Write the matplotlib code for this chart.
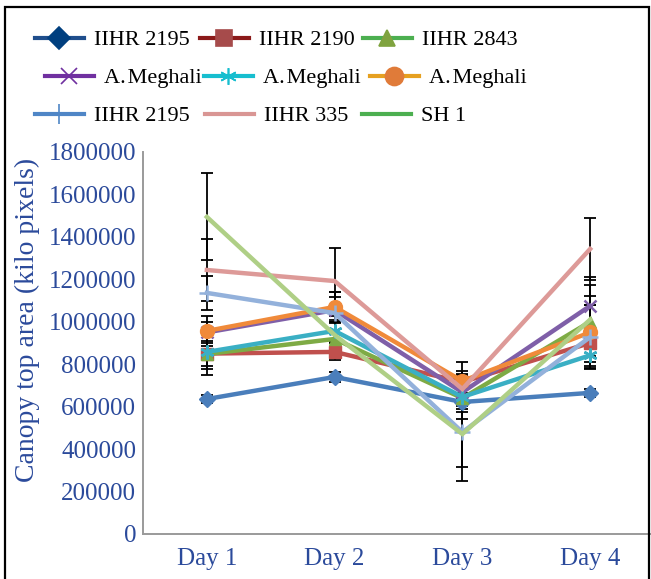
import matplotlib
matplotlib.use("Agg")
import matplotlib.pyplot as plt
from matplotlib.lines import Line2D
from matplotlib.patches import Rectangle

# ---- data -------------------------------------------------------------
days = ["Day 1", "Day 2", "Day 3", "Day 4"]
y_ticks = [0, 200000, 400000, 600000, 800000, 1000000, 1200000,
           1400000, 1600000, 1800000]

names = ["IIHR 2195", "IIHR 2190", "IIHR 2843",
         "A.\u200aMeghali", "A.\u200aMeghali", "A.\u200aMeghali",
         "IIHR 2195", "IIHR 335", "SH 1"]

iihr2195_a = [636000, 740000, 622000, 665000]
iihr2190 = [850000, 858000, 716000, 900000]
iihr2843 = [848000, 919000, 640000, 1000000]
meghali_x = [950000, 1055000, 668000, 1075000]
meghali_star = [858000, 957000, 646000, 842000]
meghali_circle = [957000, 1070000, 721000, 950000]
iihr2195_b = [1136000, 1041000, 480000, 928000]
iihr335 = [1244000, 1192000, 683000, 1343000]
sh1 = [1494000, 938000, 471000, 1010000]

err_iihr2195_a = [20000, 25000, 20000, 20000]
err_iihr2190 = [60000, 40000, 50000, 60000]
err_iihr2843 = [100000, 80000, 100000, 80000]
err_meghali_x = [50000, 60000, 80000, 100000]
err_meghali_star = [80000, 50000, 70000, 50000]
err_meghali_circle = [70000, 70000, 90000, 170000]
err_iihr2195_b = [80000, 100000, 165000, 150000]
err_iihr335 = [146000, 156000, 70000, 146000]
err_sh1 = [205000, 90000, 220000, 200000]

series = [iihr2195_a, iihr2190, iihr2843, meghali_x, meghali_star,
          meghali_circle, iihr2195_b, iihr335, sh1]
errors = [err_iihr2195_a, err_iihr2190, err_iihr2843, err_meghali_x,
          err_meghali_star, err_meghali_circle, err_iihr2195_b,
          err_iihr335, err_sh1]

# ---- styles -----------------------------------------------------------
plot_colors = ["#4A7EBB", "#C0504D", "#7EAB45", "#7F5FA8", "#3AAFC4",
               "#F08A3A", "#93B1DB", "#DD9A98", "#AFCF86"]
legend_line = ["#1F4E8C", "#8B1A1A", "#4CAF50", "#7030A0", "#17BECF",
               "#E6A020", "#4F86C6", "#D99694", "#4CAF50"]
legend_marker = ["#003F7F", "#A64B4B", "#7FA33F", "#7030A0", "#17BECF",
                 "#E07B39", "#4F86C6", None, None]
markers = ["D", "s", "^", "x", (6, 2, 0), "o", "+", None, None]
msizes = [8, 9, 9, 9, 10, 10, 12, 0, 0]

plt.rcParams["font.family"] = ["Liberation Serif", "DejaVu Serif"]
text_blue = "#2B4A9B"

fig = plt.figure(figsize=(6.51, 5.79), dpi=100)
W, H = 651, 579

# outer chart frame (bottom edge runs off the canvas)
fig.patches.append(Rectangle((5 / W, -0.05), (649 - 5) / W,
                             1 - 7 / H + 0.05,
                             transform=fig.transFigure, fill=False,
                             edgecolor="black", linewidth=1.6))

ax = fig.add_axes([143 / W, 1 - 534 / H, (654 - 143) / W, (534 - 152) / H])
x = list(range(1, len(days) + 1))

for vals, errs in zip(series, errors):
    ax.errorbar(x, vals, yerr=errs, fmt="none", ecolor="black",
                elinewidth=1.3, capsize=4, capthick=1.3, zorder=2)

for i, vals in enumerate(series):
    m = markers[i]
    kw = dict(color=plot_colors[i], lw=3.2, zorder=3 + i * 0.01,
              solid_joinstyle="miter")
    if m is not None:
        kw.update(marker=m, markersize=msizes[i],
                  markerfacecolor=plot_colors[i],
                  markeredgecolor=plot_colors[i],
                  markeredgewidth=1.8 if m in ("x", "+") or isinstance(m, tuple) else 1)
    ax.plot(x, vals, **kw)

ax.set_xlim(0.5, 4.5)
ax.set_ylim(0, 1800000)
ax.set_xticks(x)
ax.set_xticklabels(days)
ax.set_yticks(y_ticks)
ax.set_yticklabels([str(v) for v in y_ticks])
ax.tick_params(length=0, labelsize=18, colors=text_blue)
ax.tick_params(axis="y", pad=5)
ax.tick_params(axis="x", pad=10)
for side in ("top", "right"):
    ax.spines[side].set_visible(False)
for side in ("left", "bottom"):
    ax.spines[side].set_color("#9A9A9A")
    ax.spines[side].set_linewidth(1.4)
ax.set_ylabel("Canopy top area (kilo pixels)", fontsize=20, color=text_blue)
ax.yaxis.set_label_coords(-(143 - 40) / (654 - 143), (534 - 320) / (534 - 152))

# legend: one entry per box, three rows
rows_y = [40, 78, 116]
entry_x = [35, 200, 363, 45, 204, 370, 35, 205, 362]
for i in range(9):
    m = markers[i]
    h = Line2D([], [], color=legend_line[i], lw=3)
    if m is not None:
        mc = legend_marker[i]
        h.set_marker(m)
        h.set_markersize(msizes[i] + (3 if m in ("D", "s", "^", "o") else 2))
        h.set_markerfacecolor(mc)
        h.set_markeredgecolor(mc)
        h.set_markeredgewidth(1.2)
    fig.legend([h], [names[i]], loc="center left",
               bbox_to_anchor=(entry_x[i] / W, 1 - rows_y[i // 3] / H),
               frameon=False, fontsize=16, handlelength=2.2,
               handletextpad=0.45, borderpad=0, borderaxespad=0,
               labelcolor="black")

fig.savefig("out.png", dpi=100)
